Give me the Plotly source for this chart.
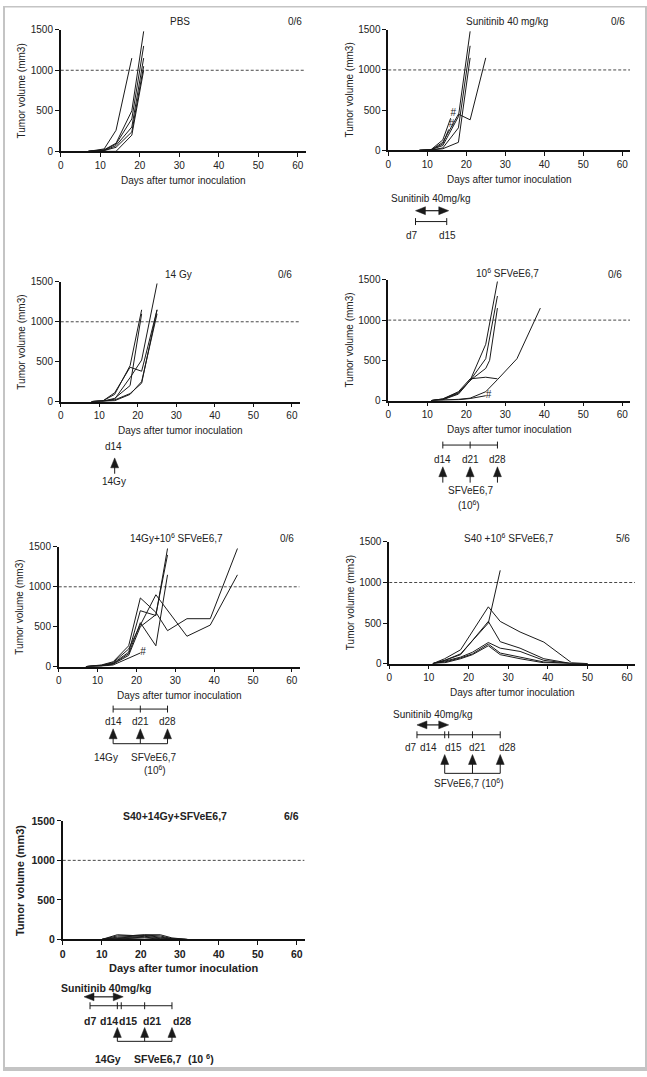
import plotly.graph_objects as go

W, H = 647, 1077
FONT = "Liberation Sans, Arial, Helvetica, sans-serif"
INK = "#1a1a1a"

# ---------------- data ----------------
x_ticks = [0, 10, 20, 30, 40, 50, 60]
y_ticks = [0, 500, 1000, 1500]
x_max = 62
y_max = 1500
threshold = 1000

pbs_days = [
    [7, 11, 14, 18],
    [7, 11, 14, 18, 21],
    [7, 11, 14, 18, 21],
    [7, 11, 14, 18, 21],
    [7, 11, 14, 18, 21],
    [7, 11, 14, 18, 21]]
pbs_vol = [
    [0, 30, 260, 1150],
    [0, 20, 100, 500, 1480],
    [0, 15, 90, 400, 1300],
    [0, 10, 70, 300, 1150],
    [0, 10, 50, 240, 1050],
    [0, 0, 0, 200, 1000]]

sun_days = [
    [8, 11, 14, 18, 21, 25],
    [8, 11, 14, 18, 21],
    [8, 11, 14, 18, 21],
    [8, 11, 14, 18, 21],
    [8, 11, 14, 16],
    [8, 11, 14, 15.5]]
sun_vol = [
    [0, 5, 100, 450, 380, 1150],
    [0, 10, 60, 420, 1480],
    [0, 5, 30, 280, 1300],
    [0, 5, 20, 100, 1150],
    [0, 10, 130, 400],
    [0, 5, 80, 260]]
sun_dead = [4, 5]

gy_days = [
    [8, 11, 14, 18, 21],
    [8, 11, 14, 18, 21],
    [8, 11, 14, 18, 21, 25],
    [8, 11, 14, 18, 21, 25],
    [8, 11, 14, 18, 21, 25],
    [8, 11, 14, 18, 21, 25]]
gy_vol = [
    [0, 10, 90, 450, 1150],
    [0, 5, 40, 200, 1100],
    [0, 10, 110, 430, 380, 1150],
    [0, 5, 30, 300, 520, 1480],
    [0, 5, 20, 100, 230, 1150],
    [0, 0, 10, 90, 250, 1100]]

sfv_days = [
    [11, 14, 18, 21, 25, 28],
    [11, 14, 18, 21, 25, 28],
    [11, 14, 18, 21, 25, 26, 28],
    [11, 14, 18, 21, 25, 28],
    [11, 14, 18, 21, 25, 28, 33, 39],
    [11, 14, 18, 21, 25]]
sfv_vol = [
    [0, 20, 100, 250, 700, 1480],
    [0, 15, 90, 250, 520, 1300],
    [0, 10, 80, 250, 400, 500, 1150],
    [0, 20, 110, 270, 290, 270],
    [0, 5, 15, 30, 110, 260, 520, 1150],
    [0, 5, 10, 25, 60]]
sfv_dead = [5]

combo_days = [
    [7, 11, 14, 18, 21, 25, 28, 33, 39, 46],
    [7, 11, 14, 18, 21, 25, 33, 39, 46],
    [7, 11, 14, 18, 21, 25, 28],
    [7, 11, 14, 18, 21, 25, 28],
    [7, 11, 14, 18, 21, 25, 28],
    [7, 11, 14, 18, 21]]
combo_vol = [
    [0, 20, 60, 260, 860, 680, 450, 600, 600, 1480],
    [0, 15, 50, 220, 520, 900, 380, 520, 1150],
    [0, 10, 40, 180, 700, 640, 1480],
    [0, 10, 35, 160, 550, 260, 1150],
    [0, 10, 30, 140, 500, 650, 1400],
    [0, 5, 20, 100, 170]]
combo_dead = [5]

s40_days = [
    [11, 14, 18, 25, 28, 33, 39, 46, 50],
    [11, 14, 18, 25, 28],
    [11, 14, 18, 21, 25, 28, 33, 39, 46, 50],
    [11, 14, 18, 21, 25, 28, 33, 39, 46, 50],
    [11, 14, 18, 21, 25, 28, 33, 39, 46, 50],
    [11, 14, 18, 21, 25, 28, 33, 39, 46, 50]]
s40_vol = [
    [0, 60, 170, 700, 520, 390, 265, 10, 0],
    [0, 40, 120, 500, 1150],
    [0, 40, 110, 280, 520, 270, 190, 60, 0, 0],
    [0, 30, 80, 140, 260, 190, 150, 40, 0, 0],
    [0, 20, 70, 120, 240, 130, 80, 20, 0, 0],
    [0, 10, 60, 110, 220, 110, 60, 10, 0, 0]]

tri_days = [
    [10, 14, 18, 21, 25, 28, 32],
    [10, 14, 18, 21, 25, 28, 32],
    [10, 14, 18, 21, 25, 28, 32],
    [10, 14, 18, 21, 25, 28, 32],
    [10, 14, 18, 21, 25, 28, 32],
    [10, 14, 18, 21, 25, 28, 32]]
tri_vol = [
    [0, 60, 50, 60, 60, 20, 0],
    [0, 45, 50, 55, 45, 10, 0],
    [0, 30, 40, 50, 30, 10, 0],
    [0, 20, 30, 40, 20, 5, 0],
    [0, 10, 20, 30, 10, 0, 0],
    [0, 5, 10, 20, 5, 0, 0]]

titles = ["PBS", "Sunitinib 40 mg/kg", "14 Gy", "10<sup>6</sup> SFVeE6,7",
          "14Gy+10<sup>6</sup> SFVeE6,7", "S40 +10<sup>6</sup> SFVeE6,7",
          "<b>S40+14Gy+SFVeE6,7</b>"]
cure_counts = ["0/6", "0/6", "0/6", "0/6", "0/6", "5/6", "<b>6/6</b>"]

sunitinib_days = [7, 15]
irradiation_days = [14]
vaccine_days = [14, 21, 28]

panels_days = [pbs_days, sun_days, gy_days, sfv_days, combo_days, s40_days, tri_days]
panels_vol = [pbs_vol, sun_vol, gy_vol, sfv_vol, combo_vol, s40_vol, tri_vol]
panels_dead = [[], sun_dead, [], sfv_dead, combo_dead, [], []]
dead_pos = [None, "top right", None, "middle right", "middle right", None, None]

# ---------------- layout geometry (pixels) ----------------
GEOM = [  # x_left, x_right, y_top, y_bottom
    (58, 304, 24, 147),
    (387, 630, 24, 146),
    (58, 298, 279, 400),
    (387, 630, 277, 399),
    (56, 298, 547, 668),
    (388, 635, 542, 665),
    (60, 303, 824, 944),
]
TITLE_POS = [(178, 16), (506, 16), (176, 272), (507, 270), (174, 538), (508, 538), (173, 819)]
COUNT_POS = [(293, 16), (618, 16), (283, 272), (615, 272), (285, 538), (623, 538), (290, 819)]


def px(x):
    return x / W


def py(y):
    return 1 - y / H


def day_x(i, d):
    x0, x1, _, _ = GEOM[i]
    return x0 + d * (x1 - x0) / x_max


shapes = []
annotations = []


def seg(xa, ya, xb, yb, w=1.0, color=INK):
    shapes.append(dict(type="line", xref="paper", yref="paper",
                       x0=px(xa), y0=py(ya), x1=px(xb), y1=py(yb),
                       line=dict(color=color, width=w)))


def poly(points, color=INK):
    path = "M " + " L ".join(f"{px(a):.6f},{py(b):.6f}" for a, b in points) + " Z"
    shapes.append(dict(type="path", xref="paper", yref="paper", path=path,
                       fillcolor=color, line=dict(color=color, width=0.5)))


def text(x, y, s, size=10, bold=False, xanchor="center"):
    if bold:
        s = "<b>" + s + "</b>"
    annotations.append(dict(xref="paper", yref="paper", x=px(x), y=py(y), text=s,
                            showarrow=False, xanchor=xanchor, yanchor="middle",
                            font=dict(family=FONT, size=size, color="#222")))


def bracket(i, days, y, half=3.5):
    seg(day_x(i, days[0]), y, day_x(i, days[-1]), y)
    for d in days:
        seg(day_x(i, d), y - half, day_x(i, d), y + half)


def up_arrows(i, days, tip, base, stem_end, hw=4):
    for d in days:
        x = day_x(i, d)
        poly([(x, tip), (x - hw, base), (x + hw, base)])
        seg(x, base - 1, x, stem_end)


def double_arrow(i, d0, d1, y, head=10, hh=4, pad_l=0.0, pad_r=0.0):
    xa, xb = day_x(i, d0) - pad_l, day_x(i, d1) + pad_r
    seg(xa + head - 1, y, xb - head + 1, y, w=1.2)
    poly([(xa, y), (xa + head, y - hh), (xa + head, y + hh)])
    poly([(xb, y), (xb - head, y - hh), (xb - head, y + hh)])


fig = go.Figure()
layout = dict()

for i, (x0, x1, yt, yb) in enumerate(GEOM):
    n = "" if i == 0 else str(i + 1)
    bold = (i == 6)
    fsz = 10.5 if bold else 10
    tf = dict(family=FONT, size=fsz, color="#222", weight=("bold" if bold else "normal"))
    layout["xaxis" + n] = dict(domain=[px(x0), px(x1)], range=[0, x_max], anchor="y" + n,
                               tickvals=x_ticks, ticks="outside", ticklen=4, tickwidth=1.3,
                               tickcolor="#111", showline=True, linecolor="#111", linewidth=1.5,
                               showgrid=False, zeroline=False, tickfont=tf, fixedrange=True)
    layout["yaxis" + n] = dict(domain=[py(yb), py(yt)], range=[0, y_max], anchor="x" + n,
                               tickvals=y_ticks, ticks="outside", ticklen=4, tickwidth=1.3,
                               tickcolor="#111", showline=True, linecolor="#111", linewidth=1.5,
                               showgrid=False, zeroline=False, tickfont=tf, fixedrange=True)
    xa, ya = "x" + n, "y" + n
    # threshold
    fig.add_trace(go.Scatter(x=[0, x_max], y=[threshold, threshold], mode="lines",
                             line=dict(color="#333", width=0.9, dash="3px,2px"),
                             xaxis=xa, yaxis=ya, showlegend=False, hoverinfo="skip"))
    for days, vol in zip(panels_days[i], panels_vol[i]):
        fig.add_trace(go.Scatter(x=days, y=vol, mode="lines",
                                 line=dict(color=INK, width=1),
                                 xaxis=xa, yaxis=ya, showlegend=False, hoverinfo="skip"))
    for k in panels_dead[i]:
        fig.add_trace(go.Scatter(x=[panels_days[i][k][-1]], y=[panels_vol[i][k][-1]],
                                 mode="text", text=["#"], textposition=dead_pos[i],
                                 textfont=dict(family=FONT, size=10, color="#222"),
                                 cliponaxis=False,
                                 xaxis=xa, yaxis=ya, showlegend=False, hoverinfo="skip"))
    # titles
    tsz = 10.5 if bold else 10
    text(TITLE_POS[i][0], TITLE_POS[i][1], titles[i], size=tsz)
    text(COUNT_POS[i][0], COUNT_POS[i][1], cure_counts[i], size=tsz)
    text((x0 + x1) / 2, yb + 29, "Days after tumor inoculation", size=(11 if bold else 10), bold=bold)
    annotations.append(dict(xref="paper", yref="paper", x=px(x0 - (43 if bold else 39)),
                            y=py((yt + yb) / 2),
                            text=("<b>Tumor volume (mm3)</b>" if bold else "Tumor volume (mm3)"),
                            textangle=-90, showarrow=False, xanchor="center", yanchor="middle",
                            font=dict(family=FONT, size=(11 if bold else 10), color="#222")))

# ---------------- treatment schedules ----------------
# Panel 2: Sunitinib
i = 1
text(430, 195, "Sunitinib 40mg/kg")
double_arrow(i, sunitinib_days[0], sunitinib_days[1], 207, pad_r=2)
bracket(i, sunitinib_days, 218)
text(day_x(i, sunitinib_days[0]) - 4, 232, "d%d" % sunitinib_days[0])
text(day_x(i, sunitinib_days[1]) + 1, 232, "d%d" % sunitinib_days[1])

# Panel 3: 14 Gy
i = 2
xg = day_x(i, irradiation_days[0]) - 1
text(xg, 445, "d%d" % irradiation_days[0])
up_arrows(i, irradiation_days, 457, 467, 473)
text(xg, 481, "14Gy")

# Panel 4: vaccine
i = 3
bracket(i, vaccine_days, 444)
for d in vaccine_days:
    text(day_x(i, d), 459, "d%d" % d)
up_arrows(i, vaccine_days, 466, 476, 482)
text(day_x(i, vaccine_days[1]), 490, "SFVeE6,7")
text(day_x(i, vaccine_days[1]) - 1, 505, "(10<sup>6</sup>)")

# Panel 5: 14Gy + vaccine
i = 4
bracket(i, vaccine_days, 711)
for d in vaccine_days:
    text(day_x(i, d), 724, "d%d" % d)
up_arrows(i, vaccine_days, 731, 741, 746)
seg(day_x(i, vaccine_days[0]), 746, day_x(i, vaccine_days[-1]), 746)
text(day_x(i, irradiation_days[0]) - 7, 760, "14Gy")
text((day_x(i, vaccine_days[1]) + day_x(i, vaccine_days[2])) / 2, 760, "SFVeE6,7")
text((day_x(i, vaccine_days[1]) + day_x(i, vaccine_days[2])) / 2 + 1, 773, "(10<sup>6</sup>)")

# Panel 6: S40 + vaccine
i = 5
all_days = sorted(set(sunitinib_days + vaccine_days))
text(432, 716, "Sunitinib 40mg/kg")
double_arrow(i, sunitinib_days[0], sunitinib_days[1], 727)
bracket(i, all_days, 737)
lab_off6 = {7: -6, 14: -16, 15: 5, 21: 5, 28: 7}
for d in all_days:
    text(day_x(i, d) + lab_off6[d], 750, "d%d" % d)
up_arrows(i, vaccine_days, 757, 767, 776)
seg(day_x(i, vaccine_days[0]), 776, day_x(i, vaccine_days[-1]), 776)
text(day_x(i, vaccine_days[1]) - 3, 786, "SFVeE6,7 (10<sup>6</sup>)")

# Panel 7: S40 + 14Gy + vaccine (bold)
i = 6
text(103, 993, "Sunitinib 40mg/kg", size=10.5, bold=True)
double_arrow(i, sunitinib_days[0], sunitinib_days[1], 1002, pad_l=6, pad_r=2)
bracket(i, all_days, 1011)
lab_off7 = {7: 0, 14: -8, 15: 7, 21: 7, 28: 10}
for d in all_days:
    text(day_x(i, d) + lab_off7[d], 1026, "d%d" % d, size=10.5, bold=True)
up_arrows(i, vaccine_days, 1033, 1043, 1047)
seg(day_x(i, vaccine_days[0]), 1047, day_x(i, vaccine_days[-1]), 1047)
text(105, 1065, "14Gy", size=10.5, bold=True)
text(155, 1065, "SFVeE6,7", size=10.5, bold=True)
text(199, 1064, "(10 <sup>6</sup>)", size=10.5, bold=True)

# ---------------- frame ----------------
GRAY = "#c4c4c4"
for (a, b, c, d) in [(0, 0, 2, H), (0, 0, W, 1.5), (W - 2, 0, W, H), (0, H - 4, W, H)]:
    shapes.append(dict(type="rect", xref="paper", yref="paper", x0=px(a), x1=px(c),
                       y0=py(b), y1=py(d), fillcolor=GRAY, line=dict(width=0)))

fig.update_layout(**layout)
# Initial size leaves room for the default 8px body margin, so the page never
# exceeds the window; the script below removes the margin and restores full size.
fig.update_layout(width=W - 16, height=H - 16, autosize=False,
                  margin=dict(l=0, r=0, t=0, b=0),
                  paper_bgcolor="white", plot_bgcolor="white",
                  shapes=shapes, annotations=annotations,
                  font=dict(family=FONT, size=10, color="#222"))

post = (
    "var gd=document.getElementById('{plot_id}');"
    "document.body.style.margin='0';"
    "document.documentElement.style.overflow='hidden';"
    "gd.style.width='%dpx';gd.style.height='%dpx';"
    "Plotly.relayout(gd,{width:%d,height:%d});" % (W, H, W, H)
)
fig.write_html("out.html", config={"displayModeBar": False}, post_script=post)
